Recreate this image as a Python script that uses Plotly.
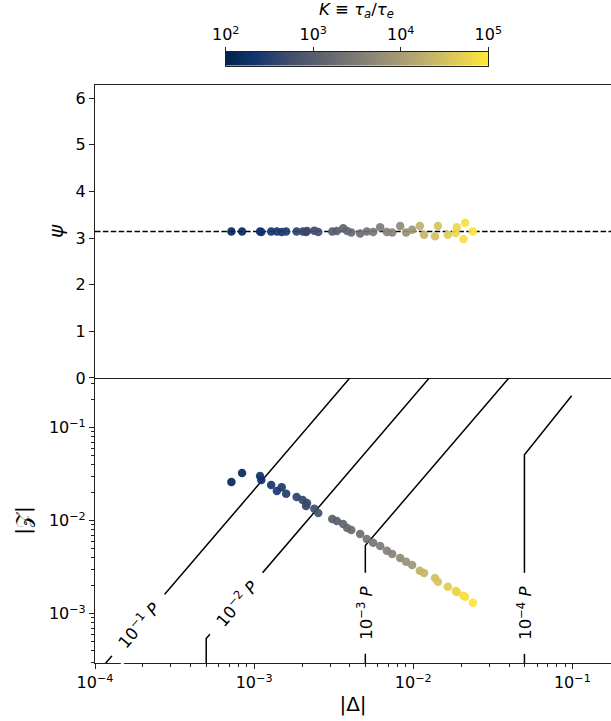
import numpy as np
import plotly.graph_objects as go

# ---------------- data ----------------
delta = [7.2e-4, 8.4e-4, 1.09e-3, 1.11e-3, 1.28e-3, 1.39e-3, 1.49e-3, 1.59e-3,
         1.85e-3, 2.02e-3, 2.15e-3, 2.12e-3, 2.39e-3, 2.53e-3, 3.10e-3, 3.31e-3,
         3.63e-3, 3.85e-3, 4.08e-3, 4.64e-3, 5.11e-3, 5.60e-3, 6.20e-3, 6.83e-3,
         7.38e-3, 8.28e-3, 9.02e-3, 9.84e-3, 1.10e-2, 1.17e-2, 1.37e-2, 1.43e-2,
         1.65e-2, 1.88e-2, 1.85e-2, 2.12e-2, 2.07e-2, 2.37e-2]
z_abs = [0.0261, 0.0326, 0.0303, 0.0274, 0.0242, 0.0208, 0.0229, 0.0195,
         0.0180, 0.0167, 0.0155, 0.0144, 0.0134, 0.0121, 0.0104, 0.0099,
         0.00922, 0.00835, 0.00794, 0.00719, 0.00635, 0.00580, 0.00534, 0.00476,
         0.00438, 0.00397, 0.00362, 0.00334, 0.00290, 0.00274, 0.00242, 0.00221,
         0.00195, 0.00171, 0.00175, 0.00152, 0.00156, 0.00131]
psi = [3.14, 3.14, 3.14, 3.13, 3.14, 3.14, 3.13, 3.14,
       3.14, 3.14, 3.15, 3.13, 3.16, 3.13, 3.14, 3.15,
       3.21, 3.15, 3.12, 3.10, 3.14, 3.13, 3.23, 3.13,
       3.12, 3.26, 3.12, 3.18, 3.26, 3.07, 3.04, 3.26,
       3.07, 3.23, 3.11, 3.33, 2.98, 3.14]
log_k = [2.08, 2.15, 2.27, 2.28, 2.33, 2.37, 2.40, 2.45,
         2.55, 2.60, 2.65, 2.64, 2.72, 2.76, 2.98, 3.02,
         3.10, 3.15, 3.20, 3.28, 3.33, 3.40, 3.50, 3.55,
         3.60, 3.72, 3.82, 3.90, 4.30, 4.35, 4.50, 4.55,
         4.65, 4.80, 4.78, 4.92, 4.90, 4.97]

# P reference lines: vertical part at corner delta, then slope-2 diagonal
p_labels = ["10<sup>−1</sup> <i>P</i>", "10<sup>−2</sup> <i>P</i>",
            "10<sup>−3</sup> <i>P</i>", "10<sup>−4</sup> <i>P</i>"]
p_floor_z = [1e-5, 1e-5, 1e-5, 1e-5]
p_corner_delta = [5e-5, 5e-4, 5e-3, 5e-2]
p_corner_z = [5.4e-5, 5.4e-4, 5.4e-3, 5.1e-2]
p_end_delta = [1e-2, 1e-1, 1e-1, 0.099]
p_end_z = [2.14, 21.4, 2.14, 0.22]
p_label_delta = [1.86e-4, 7.73e-4, 5e-3, 5e-2]
p_label_z = [7.57e-4, 1.30e-3, 1.02e-3, 1.02e-3]
p_label_angle = [-49.4, -49.4, -90, -90]

cbar_tick_vals = [2, 3, 4, 5]
cbar_tick_text = ["10<sup>2</sup>", "10<sup>3</sup>", "10<sup>4</sup>", "10<sup>5</sup>"]

x_tick_vals = [1e-4, 1e-3, 1e-2, 1e-1]
x_tick_text = ["10<sup>−4</sup>", "10<sup>−3</sup>", "10<sup>−2</sup>", "10<sup>−1</sup>"]
z_tick_vals = [1e-3, 1e-2, 1e-1]
z_tick_text = ["10<sup>−3</sup>", "10<sup>−2</sup>", "10<sup>−1</sup>"]
psi_tick_vals = [0, 1, 2, 3, 4, 5, 6]

# ---------------- figure ----------------
FONT = "DejaVu Sans"
AX = "#222222"
fig = go.Figure()

def minor_vals(lo, hi):
    out = []
    for e in range(lo, hi):
        for m in range(2, 10):
            out.append(m * 10.0 ** e)
    return out

# P lines
for i in range(len(p_labels)):
    fig.add_trace(go.Scatter(
        x=[p_corner_delta[i], p_corner_delta[i], p_end_delta[i]],
        y=[p_floor_z[i], p_corner_z[i], p_end_z[i]],
        mode="lines", line=dict(color="black", width=1.5),
        xaxis="x2", yaxis="y2", showlegend=False, hoverinfo="skip"))

# bottom panel points
fig.add_trace(go.Scatter(
    x=delta, y=z_abs, mode="markers", xaxis="x2", yaxis="y2",
    marker=dict(size=8.5, color=log_k, colorscale="Cividis", cmin=2, cmax=5,
                showscale=False, opacity=0.92, line=dict(width=0)),
    showlegend=False))

# top panel points
fig.add_trace(go.Scatter(
    x=delta, y=psi, mode="markers", xaxis="x", yaxis="y",
    marker=dict(size=8.5, color=log_k, colorscale="Cividis", cmin=2, cmax=5,
                showscale=False, opacity=0.92, line=dict(width=0)),
    showlegend=False))

# colorbar as heatmap strip
grad = np.linspace(2, 5, 300)
fig.add_trace(go.Heatmap(
    z=[grad], x=grad, y=[0], colorscale="Cividis", zmin=2, zmax=5,
    showscale=False, xaxis="x3", yaxis="y3", hoverinfo="skip"))

# dashed pi line
fig.add_shape(type="line", xref="x domain", x0=0, x1=1, yref="y", y0=np.pi, y1=np.pi,
              line=dict(color="black", width=1.5, dash="5.5px,2.4px"), layer="below")

# P labels
for i in range(len(p_labels)):
    fig.add_annotation(
        x=np.log10(p_label_delta[i]), y=np.log10(p_label_z[i]), xref="x2", yref="y2",
        text="&nbsp;&nbsp;" + p_labels[i] + "&nbsp;&nbsp;", showarrow=False,
        textangle=p_label_angle[i], bgcolor="white", borderpad=3,
        font=dict(family=FONT, size=16.5, color="black"))

# colorbar title
fig.add_annotation(
    x=0.5, xref="x3 domain", y=1.047, yref="paper", yanchor="middle",
    text="<i>K</i> ≡ <i>τ</i><sub><i>a</i></sub>/<i>τ</i><sub><i>e</i></sub>",
    showarrow=False, font=dict(family=FONT, size=16.5, color="black"))

x_range = [-4.0, -0.757]
common_axis = dict(showline=True, linecolor=AX, linewidth=1.1, ticks="outside",
                   tickcolor=AX, ticklen=5, tickwidth=1, showgrid=False,
                   zeroline=False, automargin=False,
                   tickfont=dict(family=FONT, size=16, color="black"))

fig.update_layout(
    width=611, height=721,
    margin=dict(l=95, r=0, t=40, b=58, autoexpand=False),
    paper_bgcolor="white", plot_bgcolor="white",
    font=dict(family=FONT, color="black"),
    xaxis=dict(domain=[0, 1], anchor="y", type="log", range=x_range, matches="x2",
               showline=True, mirror=True, linecolor=AX, linewidth=1.1, automargin=False,
               ticks="", showticklabels=False, showgrid=False, zeroline=False),
    yaxis=dict(domain=[0.4575, 0.92777], anchor="x", range=[0, 2 * np.pi],
               tickvals=psi_tick_vals,
               title=dict(text="<i>ψ</i>", font=dict(family=FONT, size=20), standoff=6),
               **common_axis),
    xaxis2=dict(domain=[0, 1], anchor="y2", type="log", range=x_range,
                tickvals=x_tick_vals, ticktext=x_tick_text,
                minor=dict(tickvals=minor_vals(-5, 0), ticks="outside", ticklen=3,
                           tickcolor=AX, showgrid=False),
                title=dict(text="|Δ|", font=dict(family=FONT, size=20), standoff=5),
                **common_axis),
    yaxis2=dict(domain=[0, 0.4575], anchor="x2", type="log", range=[-3.53, -0.466],
                tickvals=z_tick_vals, ticktext=z_tick_text,
                minor=dict(tickvals=minor_vals(-5, 1), ticks="outside", ticklen=3,
                           tickcolor=AX, showgrid=False),
                title=dict(text="|𝒵|", font=dict(family=FONT, size=20), standoff=12),
                **common_axis),
    xaxis3=dict(domain=[0.2533, 0.7622], anchor="y3", range=[2, 5], side="top",
                tickvals=cbar_tick_vals, ticktext=cbar_tick_text, automargin=False,
                showline=True, mirror=True, linecolor=AX, linewidth=1,
                ticks="outside", ticklen=4, tickcolor=AX, showgrid=False, zeroline=False,
                tickfont=dict(family=FONT, size=16, color="black")),
    yaxis3=dict(domain=[0.95875, 0.98122], anchor="x3", range=[-0.5, 0.5], automargin=False,
                showline=True, mirror=True, linecolor=AX, linewidth=1,
                showticklabels=False, ticks="", showgrid=False, zeroline=False),
)

fig.write_html("out.html")
